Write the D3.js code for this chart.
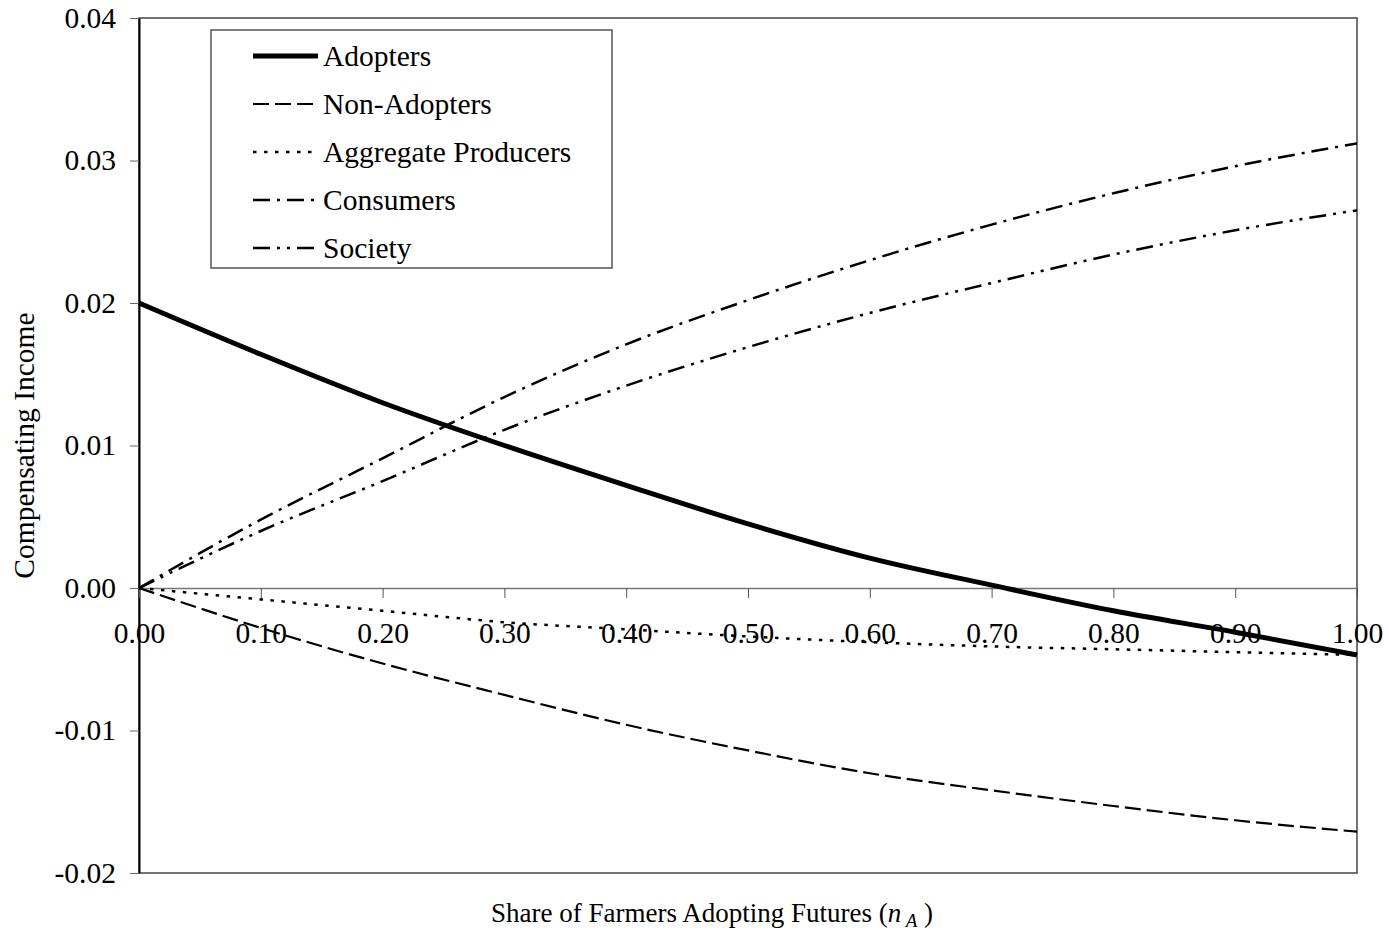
<!DOCTYPE html>
<html lang="en">
<head>
  <meta charset="UTF-8">
  <title>Compensating Income by Share of Farmers Adopting Futures</title>
  <script src="https://d3js.org/d3.v7.min.js"></script>
  <style>
    body { margin: 0; background: #fff; }
    svg { display: block; font-family: "Liberation Serif", "Times New Roman", serif; }
  </style>
</head>
<body>
  <div id="chart"></div>
  <script>
    // share of farmers adopting futures (n_A)
    const shares = [0, 0.1, 0.2, 0.3, 0.4, 0.5, 0.6, 0.7, 0.8, 0.9, 1.0];
    const adopters    = [0.0200, 0.0164, 0.0130, 0.0100, 0.0072, 0.0045, 0.0021, 0.0002, -0.0016, -0.0031, -0.0047];
    const nonAdopters = [0, -0.0028, -0.0053, -0.0075, -0.0096, -0.0114, -0.0130, -0.0142, -0.0153, -0.0163, -0.0171];
    const aggregate   = [0, -0.0008, -0.0016, -0.0024, -0.0029, -0.0034, -0.0038, -0.0041, -0.0043, -0.0045, -0.0047];
    const consumers   = [0, 0.0048, 0.0091, 0.0134, 0.0171, 0.0202, 0.0230, 0.0255, 0.0277, 0.0296, 0.0312];
    const society     = [0, 0.0040, 0.0075, 0.0111, 0.0142, 0.0169, 0.0193, 0.0214, 0.0234, 0.0251, 0.0265];
    const seriesNames = ['Adopters', 'Non-Adopters', 'Aggregate Producers', 'Consumers', 'Society'];
    const yTicks = [-0.02, -0.01, 0, 0.01, 0.02, 0.03, 0.04];
    const xTicks = [0, 0.1, 0.2, 0.3, 0.4, 0.5, 0.6, 0.7, 0.8, 0.9, 1.0];

    const styles = {
      'Adopters':            { width: 5,   dash: null },
      'Non-Adopters':        { width: 2.2, dash: '16,6' },
      'Aggregate Producers': { width: 2.5, dash: '3.5,7.5' },
      'Consumers':           { width: 2.5, dash: '17,7,3,7' },
      'Society':             { width: 2.5, dash: '17,7,3,7,3,7' }
    };
    const seriesData = [adopters, nonAdopters, aggregate, consumers, society];

    const W = 1389, H = 937;
    const plotLeft = 139, plotRight = 1357, plotTop = 18, plotBottom = 873;
    const fs = '29.5px';
    const fmt = d => d3.format('.2f')(d).replace('\u2212', '-');

    const svg = d3.select('#chart').append('svg')
      .attr('width', W).attr('height', H);

    const x = d3.scaleLinear().domain([0, 1]).range([plotLeft, plotRight]);
    const y = d3.scaleLinear().domain([-0.02, 0.04]).range([plotBottom, plotTop]);

    // plot frame
    svg.append('rect')
      .attr('x', plotLeft).attr('y', plotTop)
      .attr('width', plotRight - plotLeft).attr('height', plotBottom - plotTop)
      .attr('fill', 'none').attr('stroke', '#444').attr('stroke-width', 1.5);

    // y axis
    const yAxis = svg.append('g')
      .attr('transform', `translate(${plotLeft},0)`)
      .call(d3.axisLeft(y).tickValues(yTicks).tickFormat(fmt)
        .tickSize(9).tickPadding(14).tickSizeOuter(0));
    yAxis.select('.domain').attr('stroke', '#000').attr('stroke-width', 2);
    yAxis.selectAll('.tick line').attr('stroke', '#666');
    yAxis.selectAll('text').style('font-size', fs).attr('fill', '#000')
      .style('font-family', '"Liberation Serif", "Times New Roman", serif');

    const line = d3.line()
      .x((d, i) => x(shares[i]))
      .y(d => y(d))
      .curve(d3.curveMonotoneX);

    // x axis at zero
    const xAxis = svg.append('g')
      .attr('transform', `translate(0,${y(0)})`)
      .call(d3.axisBottom(x).tickValues(xTicks).tickFormat(fmt)
        .tickSize(10).tickPadding(24).tickSizeOuter(0));
    xAxis.select('.domain').attr('stroke', '#777').attr('stroke-width', 1.5);
    xAxis.selectAll('.tick line').attr('stroke', '#555');
    xAxis.selectAll('text').style('font-size', fs).attr('fill', '#000')
      .style('font-family', '"Liberation Serif", "Times New Roman", serif');

    // series lines
    svg.append('g').selectAll('path.series')
      .data(seriesNames)
      .join('path')
        .attr('class', 'series')
        .attr('d', (name, i) => line(seriesData[i]))
        .attr('fill', 'none')
        .attr('stroke', '#000')
        .attr('stroke-width', name => styles[name].width)
        .attr('stroke-dasharray', name => styles[name].dash);

    // axis titles
    svg.append('text')
      .attr('transform', `translate(34,${(plotTop + plotBottom) / 2}) rotate(-90)`)
      .attr('text-anchor', 'middle')
      .style('font-size', fs)
      .text('Compensating Income');

    const xt = svg.append('text')
      .attr('x', 712).attr('y', 922)
      .attr('text-anchor', 'middle')
      .style('font-size', '27px');
    xt.append('tspan').text('Share of Farmers Adopting Futures (');
    xt.append('tspan').style('font-style', 'italic').text('n');
    xt.append('tspan').style('font-style', 'italic').style('font-size', '19px')
      .attr('dy', 5).text(' A');
    xt.append('tspan').attr('dy', -5).text(' )');

    // legend
    const lg = svg.append('g');
    lg.append('rect')
      .attr('x', 211).attr('y', 30).attr('width', 401).attr('height', 238)
      .attr('fill', '#fff').attr('stroke', '#555').attr('stroke-width', 1.5);
    const items = lg.selectAll('g.item')
      .data(seriesNames)
      .join('g')
        .attr('class', 'item')
        .attr('transform', (d, i) => `translate(0,${56 + i * 48})`);
    items.append('line')
      .attr('x1', 253).attr('x2', 318)
      .attr('stroke', '#000')
      .attr('stroke-width', d => styles[d].width)
      .attr('stroke-dasharray', d => styles[d].dash);
    items.append('text')
      .attr('x', 323).attr('dy', '0.35em')
      .style('font-size', fs)
      .text(d => d);
  </script>
</body>
</html>
